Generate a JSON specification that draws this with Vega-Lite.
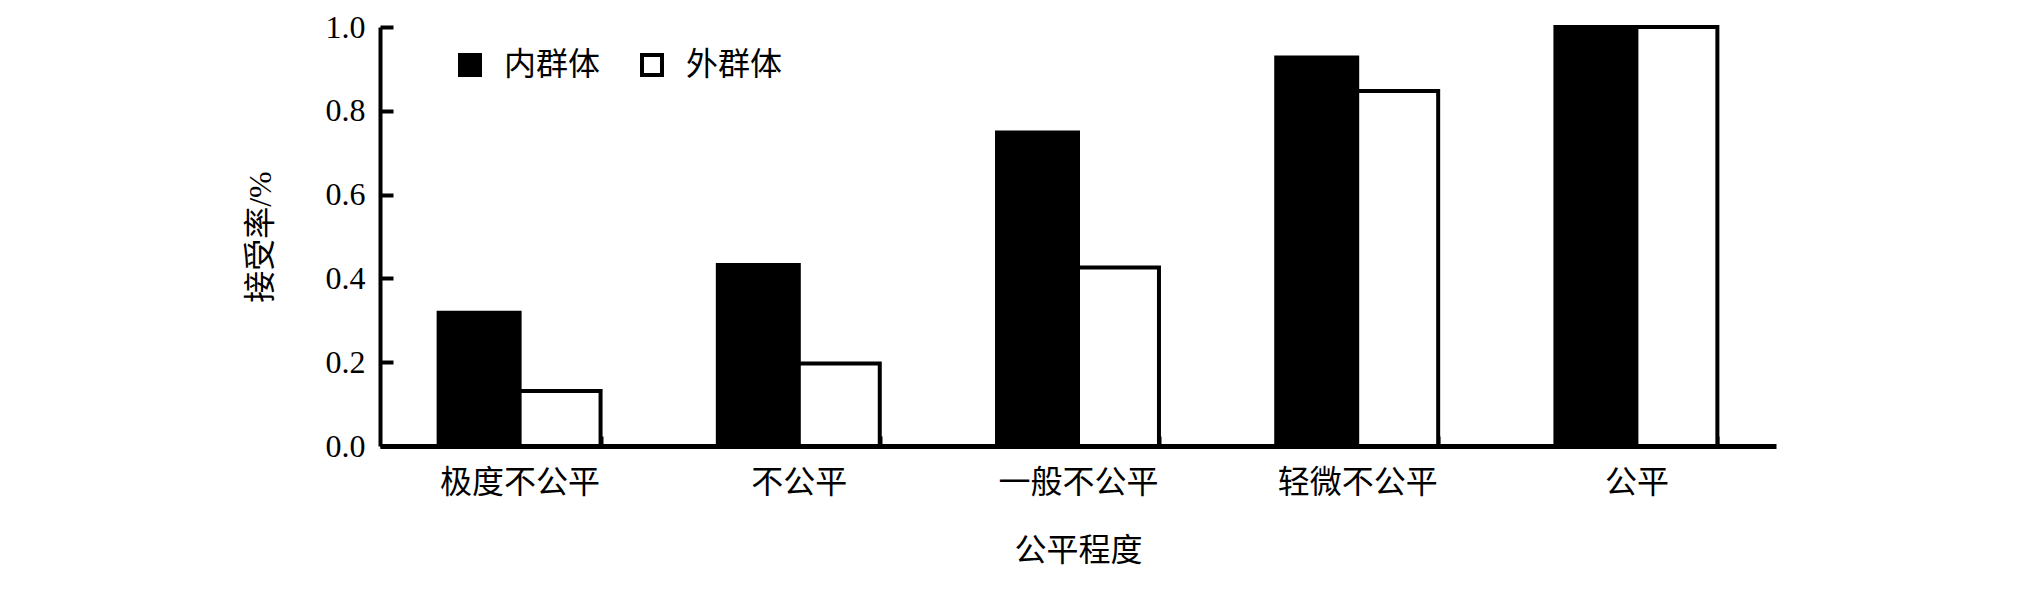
{
  "$schema": "https://vega.github.io/schema/vega-lite/v6.json",
  "autosize": {"type": "none"},
  "padding": {"left": 380, "top": 27, "right": 248, "bottom": 156},
  "width": 1396,
  "height": 419,
  "background": "white",
  "data": {
    "values": [
      {"cat": "极度不公平", "group": "内群体", "rate": 0.318},
      {"cat": "极度不公平", "group": "外群体", "rate": 0.131},
      {"cat": "不公平", "group": "内群体", "rate": 0.432},
      {"cat": "不公平", "group": "外群体", "rate": 0.197},
      {"cat": "一般不公平", "group": "内群体", "rate": 0.748},
      {"cat": "一般不公平", "group": "外群体", "rate": 0.426},
      {"cat": "轻微不公平", "group": "内群体", "rate": 0.927},
      {"cat": "轻微不公平", "group": "外群体", "rate": 0.847},
      {"cat": "公平", "group": "内群体", "rate": 1.0},
      {"cat": "公平", "group": "外群体", "rate": 1.0}
    ]
  },
  "mark": {"type": "bar", "stroke": "black", "strokeWidth": 4},
  "encoding": {
    "x": {
      "field": "cat",
      "type": "nominal",
      "sort": ["极度不公平", "不公平", "一般不公平", "轻微不公平", "公平"],
      "scale": {"paddingInner": 0.42, "paddingOuter": 0.21},
      "axis": {
        "title": "公平程度",
        "labelAngle": 0,
        "labelFont": "Noto Sans CJK SC",
        "labelFontSize": 32,
        "titleFont": "Noto Sans CJK SC",
        "titleFontSize": 32,
        "titleFontWeight": "normal",
        "titlePadding": 37,
        "tickBand": "extent",
        "ticks": true,
        "tickSize": -10,
        "tickWidth": 4,
        "labelPadding": 31,
        "domainWidth": 5
      }
    },
    "xOffset": {
      "field": "group",
      "type": "nominal",
      "sort": ["内群体", "外群体"],
      "scale": {"paddingInner": 0, "paddingOuter": 0}
    },
    "y": {
      "field": "rate",
      "type": "quantitative",
      "scale": {"domain": [0, 1], "nice": false},
      "axis": {
        "title": "接受率/%",
        "values": [0, 0.2, 0.4, 0.6, 0.8, 1.0],
        "format": ".1f",
        "grid": false,
        "ticks": true,
        "labelFont": "Liberation Serif",
        "labelFontSize": 32,
        "titleFont": "Liberation Serif, Noto Sans CJK SC",
        "titleFontSize": 32,
        "titleFontWeight": "normal",
        "titlePadding": 48,
        "tickSize": -13,
        "tickWidth": 4,
        "labelPadding": 28,
        "domainWidth": 4
      }
    },
    "fill": {
      "field": "group",
      "type": "nominal",
      "sort": ["内群体", "外群体"],
      "scale": {"domain": ["内群体", "外群体"], "range": ["black", "white"]},
      "legend": {
        "title": null,
        "orient": "none",
        "legendX": 74,
        "legendY": 22,
        "direction": "horizontal",
        "symbolType": "square",
        "symbolSize": 400,
        "symbolStrokeColor": "black",
        "symbolStrokeWidth": 4,
        "labelFont": "Noto Sans CJK SC",
        "labelFontSize": 32,
        "labelOffset": 18,
        "columnPadding": 33,
        "padding": 0
      }
    }
  },
  "config": {
    "view": {"stroke": null},
    "axis": {
      "domainColor": "black",
      "tickColor": "black",
      "labelColor": "black",
      "titleColor": "black"
    },
    "legend": {"labelColor": "black"}
  }
}
